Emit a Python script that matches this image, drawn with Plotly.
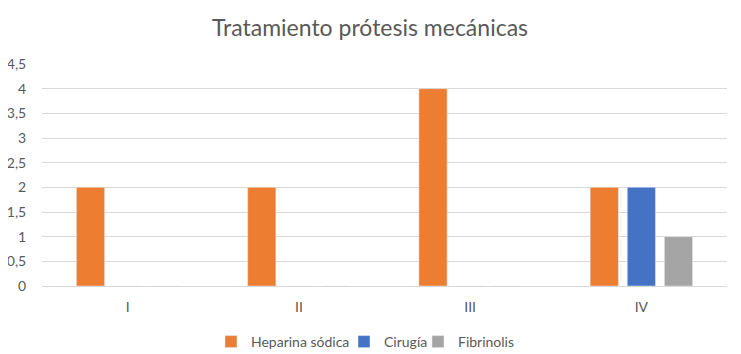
import plotly.graph_objects as go

categories = ["I", "II", "III", "IV"]
heparina = [2, 2, 4, 2]
cirugia = [0, 0, 0, 2]
fibrinolis = [0, 0, 0, 1]
y_tickvals = [0, 0.5, 1, 1.5, 2, 2.5, 3, 3.5, 4, 4.5]
y_ticktext = ["0", "0,5", "1", "1,5", "2", "2,5", "3", "3,5", "4", "4,5"]

font_family = "Lato, Open Sans, sans-serif"

# page body adds an 8px offset; margins compensate so the plot lands in place
OFF = 8
L, R, T, B = 42 - OFF, 14 + OFF, 64 - OFF, 68 + OFF
W, H = 741, 354
PW, PH = W - L - R, H - T - B

fig = go.Figure()
fig.add_trace(go.Bar(name="Heparina sódica", x=categories, y=heparina,
                     marker_color="#ED7D31", legend="legend"))
fig.add_trace(go.Bar(name="Cirugía", x=categories, y=cirugia,
                     marker_color="#4472C4", legend="legend2"))
fig.add_trace(go.Bar(name="Fibrinolis", x=categories, y=fibrinolis,
                     marker_color="#A5A5A5", legend="legend3"))


def leg(text_start_px):
    return dict(orientation="h", xref="container", x=(text_start_px - OFF - 42) / W,
                xanchor="left", yref="container", y=1 - (342 - OFF) / H, yanchor="middle",
                font=dict(family=font_family, size=14, color="#595959"), itemwidth=30,
                bgcolor="rgba(0,0,0,0)")


fig.update_layout(
    width=W, height=H,
    margin=dict(l=L, r=R, t=T, b=B, autoexpand=False),
    paper_bgcolor="white", plot_bgcolor="white",
    barmode="group", bargap=0.35, bargroupgap=0.24,
    title=dict(text="Tratamiento prótesis mecánicas", xref="container", x=(370 - OFF) / W,
               xanchor="center", yref="container", y=1 - (28 - OFF) / H, yanchor="middle",
               font=dict(family=font_family, size=23, color="#595959")),
    font=dict(family=font_family, size=14, color="#595959"),
    legend=leg(253), legend2=leg(386), legend3=leg(460),
    showlegend=True,
)
fig.update_yaxes(range=[0, 4.5], tickvals=y_tickvals, ticktext=y_ticktext,
                 showgrid=True, gridcolor="#D9D9D9", gridwidth=1,
                 zeroline=False, showline=False, automargin=False,
                 ticks="outside", ticklen=12, tickcolor="rgba(0,0,0,0)",
                 tickfont=dict(size=14, color="#595959"), fixedrange=True)
fig.update_xaxes(showgrid=False, showline=True, linecolor="#D9D9D9", linewidth=1,
                 automargin=False,
                 ticks="outside", ticklen=8, tickcolor="rgba(0,0,0,0)",
                 tickfont=dict(size=14, color="#595959"))
# thin top border line of the chart area
fig.add_shape(type="line", xref="paper", yref="paper",
              x0=(-OFF - L) / PW, x1=(W - L) / PW,
              y0=(T + OFF - 0.5) / PH + 1, y1=(T + OFF - 0.5) / PH + 1,
              line=dict(color="#D9D9D9", width=1))

fig.write_html("out.html")
